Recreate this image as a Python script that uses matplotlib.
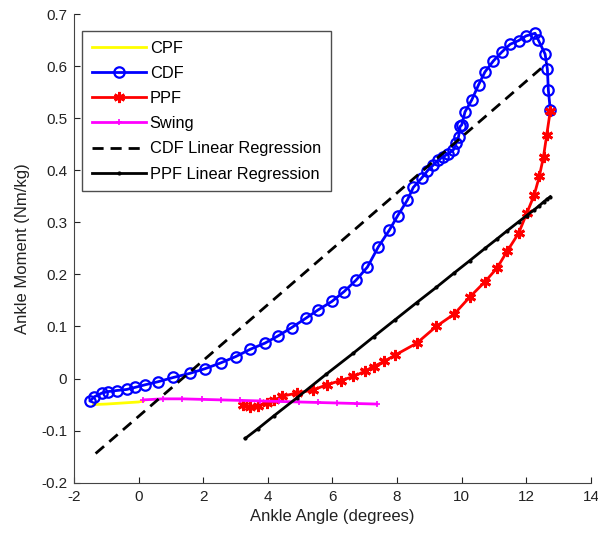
import matplotlib
matplotlib.use("Agg")
import matplotlib.pyplot as plt

plt.rcParams['font.family'] = ['Liberation Sans', 'DejaVu Sans']
plt.rcParams['axes.unicode_minus'] = False

# CPF (yellow)
cpf_x = [-1.40, -1.00, -0.50, 0.00, 0.15]
cpf_y = [-0.050, -0.049, -0.047, -0.045, -0.043]

# CDF (blue circles)
cdf_x = [-1.50, -1.37, -1.14, -0.94, -0.68, -0.37, -0.11, 0.20, 0.61, 1.07,
         1.59, 2.06, 2.54, 3.00, 3.45, 3.91, 4.32, 4.74, 5.18, 5.56,
         5.98, 6.36, 6.73, 7.08, 7.42, 7.76, 8.02, 8.32, 8.50, 8.76,
         8.94, 9.12, 9.28, 9.43, 9.59, 9.74, 9.83, 9.90, 9.95, 10.00,
         10.10, 10.31, 10.52, 10.72, 10.98, 11.24, 11.50, 11.76, 11.99, 12.27,
         12.37, 12.58, 12.65, 12.68, 12.74]
cdf_y = [-0.043, -0.035, -0.028, -0.025, -0.023, -0.021, -0.017, -0.012, -0.006, 0.002,
         0.010, 0.019, 0.030, 0.042, 0.056, 0.068, 0.082, 0.098, 0.116, 0.132,
         0.148, 0.167, 0.189, 0.214, 0.253, 0.285, 0.313, 0.343, 0.367, 0.385,
         0.399, 0.410, 0.420, 0.426, 0.432, 0.439, 0.452, 0.464, 0.484, 0.487,
         0.512, 0.535, 0.564, 0.589, 0.610, 0.627, 0.642, 0.649, 0.658, 0.663,
         0.650, 0.623, 0.594, 0.554, 0.516]

# PPF (red stars)
ppf_x = [3.24, 3.45, 3.70, 3.96, 4.20, 4.43, 4.90, 5.40, 5.82, 6.25,
         6.65, 7.00, 7.27, 7.60, 7.94, 8.61, 9.21, 9.77, 10.24, 10.72,
         11.09, 11.41, 11.76, 12.01, 12.24, 12.40, 12.53, 12.63, 12.74]
ppf_y = [-0.051, -0.055, -0.052, -0.047, -0.042, -0.034, -0.028, -0.022, -0.012, -0.004,
         0.004, 0.014, 0.023, 0.033, 0.045, 0.068, 0.100, 0.124, 0.156, 0.186,
         0.212, 0.245, 0.279, 0.317, 0.352, 0.388, 0.426, 0.468, 0.514]

# Swing (magenta)
swing_x = [0.15, 0.75, 1.35, 1.95, 2.55, 3.15, 3.75, 4.35, 4.95, 5.55, 6.15, 6.75, 7.37]
swing_y = [-0.041, -0.039, -0.039, -0.040, -0.041, -0.042, -0.043, -0.044, -0.045, -0.046, -0.047, -0.048, -0.049]

# CDF linear regression (dashed)
cdf_reg_x = [-1.33, 12.63]
cdf_reg_y = [-0.144, 0.605]

# PPF linear regression
ppf_reg_x = [3.30, 3.70, 4.20, 4.90, 5.80, 6.65, 7.27, 7.94, 8.61, 9.21, 9.77,
             10.24, 10.72, 11.09, 11.41, 11.76, 12.01, 12.24, 12.40, 12.53, 12.63, 12.74]
ppf_reg_y = [-0.115, -0.096, -0.071, -0.037, 0.008, 0.049, 0.080, 0.113, 0.146, 0.175, 0.203,
             0.226, 0.250, 0.268, 0.284, 0.301, 0.313, 0.324, 0.332, 0.339, 0.344, 0.349]

xticks = [-2, 0, 2, 4, 6, 8, 10, 12, 14]
yticks = [-0.2, -0.1, 0, 0.1, 0.2, 0.3, 0.4, 0.5, 0.6, 0.7]
ytick_labels = ['-0.2', '-0.1', '0', '0.1', '0.2', '0.3', '0.4', '0.5', '0.6', '0.7']

fig = plt.figure(figsize=(5.98, 5.33), dpi=100)
ax = fig.add_axes([0.1237, 0.0944, 0.8646, 0.8793])

ax.plot(cpf_x, cpf_y, color='yellow', lw=2, label='CPF')
ax.plot(cdf_x, cdf_y, color='blue', lw=2, marker='o', ms=7.5, mfc='none', mew=1.6, label='CDF')
ax.plot(ppf_x, ppf_y, color='red', lw=2, marker=(6, 2, 0), ms=8, mew=2, label='PPF')
ax.plot(swing_x, swing_y, color='magenta', lw=2, marker='+', ms=4, mew=1.2, label='Swing')
ax.plot(cdf_reg_x, cdf_reg_y, color='black', lw=2, ls=(0, (4, 2.5)), label='CDF Linear Regression')
ax.plot(ppf_reg_x, ppf_reg_y, color='black', lw=2, marker='.', ms=4, label='PPF Linear Regression')

ax.set_xlim(-2, 14)
ax.set_ylim(-0.2, 0.7)
ax.set_xticks(xticks)
ax.set_xticklabels([str(t) for t in xticks])
ax.set_yticks(yticks)
ax.set_yticklabels(ytick_labels)
ax.tick_params(direction='in', length=4, labelsize=11, colors='#222222', pad=5)
ax.spines['top'].set_visible(False)
ax.spines['right'].set_visible(False)
for s in ['left', 'bottom']:
    ax.spines[s].set_color('#444444')

ax.set_xlabel('Ankle Angle (degrees)', fontsize=12, color='#222222', labelpad=4)
ax.set_ylabel('Ankle Moment (Nm/kg)', fontsize=12, color='#222222', labelpad=8)

leg = ax.legend(loc='upper left', bbox_to_anchor=(0.015, 0.964), fontsize=11.8,
                frameon=True, fancybox=False, edgecolor='#222222', handlelength=3.3,
                handletextpad=0.25, labelspacing=0.62, borderaxespad=0, borderpad=0.6)
leg.get_frame().set_linewidth(1.0)

fig.savefig('out.png', dpi=100)
